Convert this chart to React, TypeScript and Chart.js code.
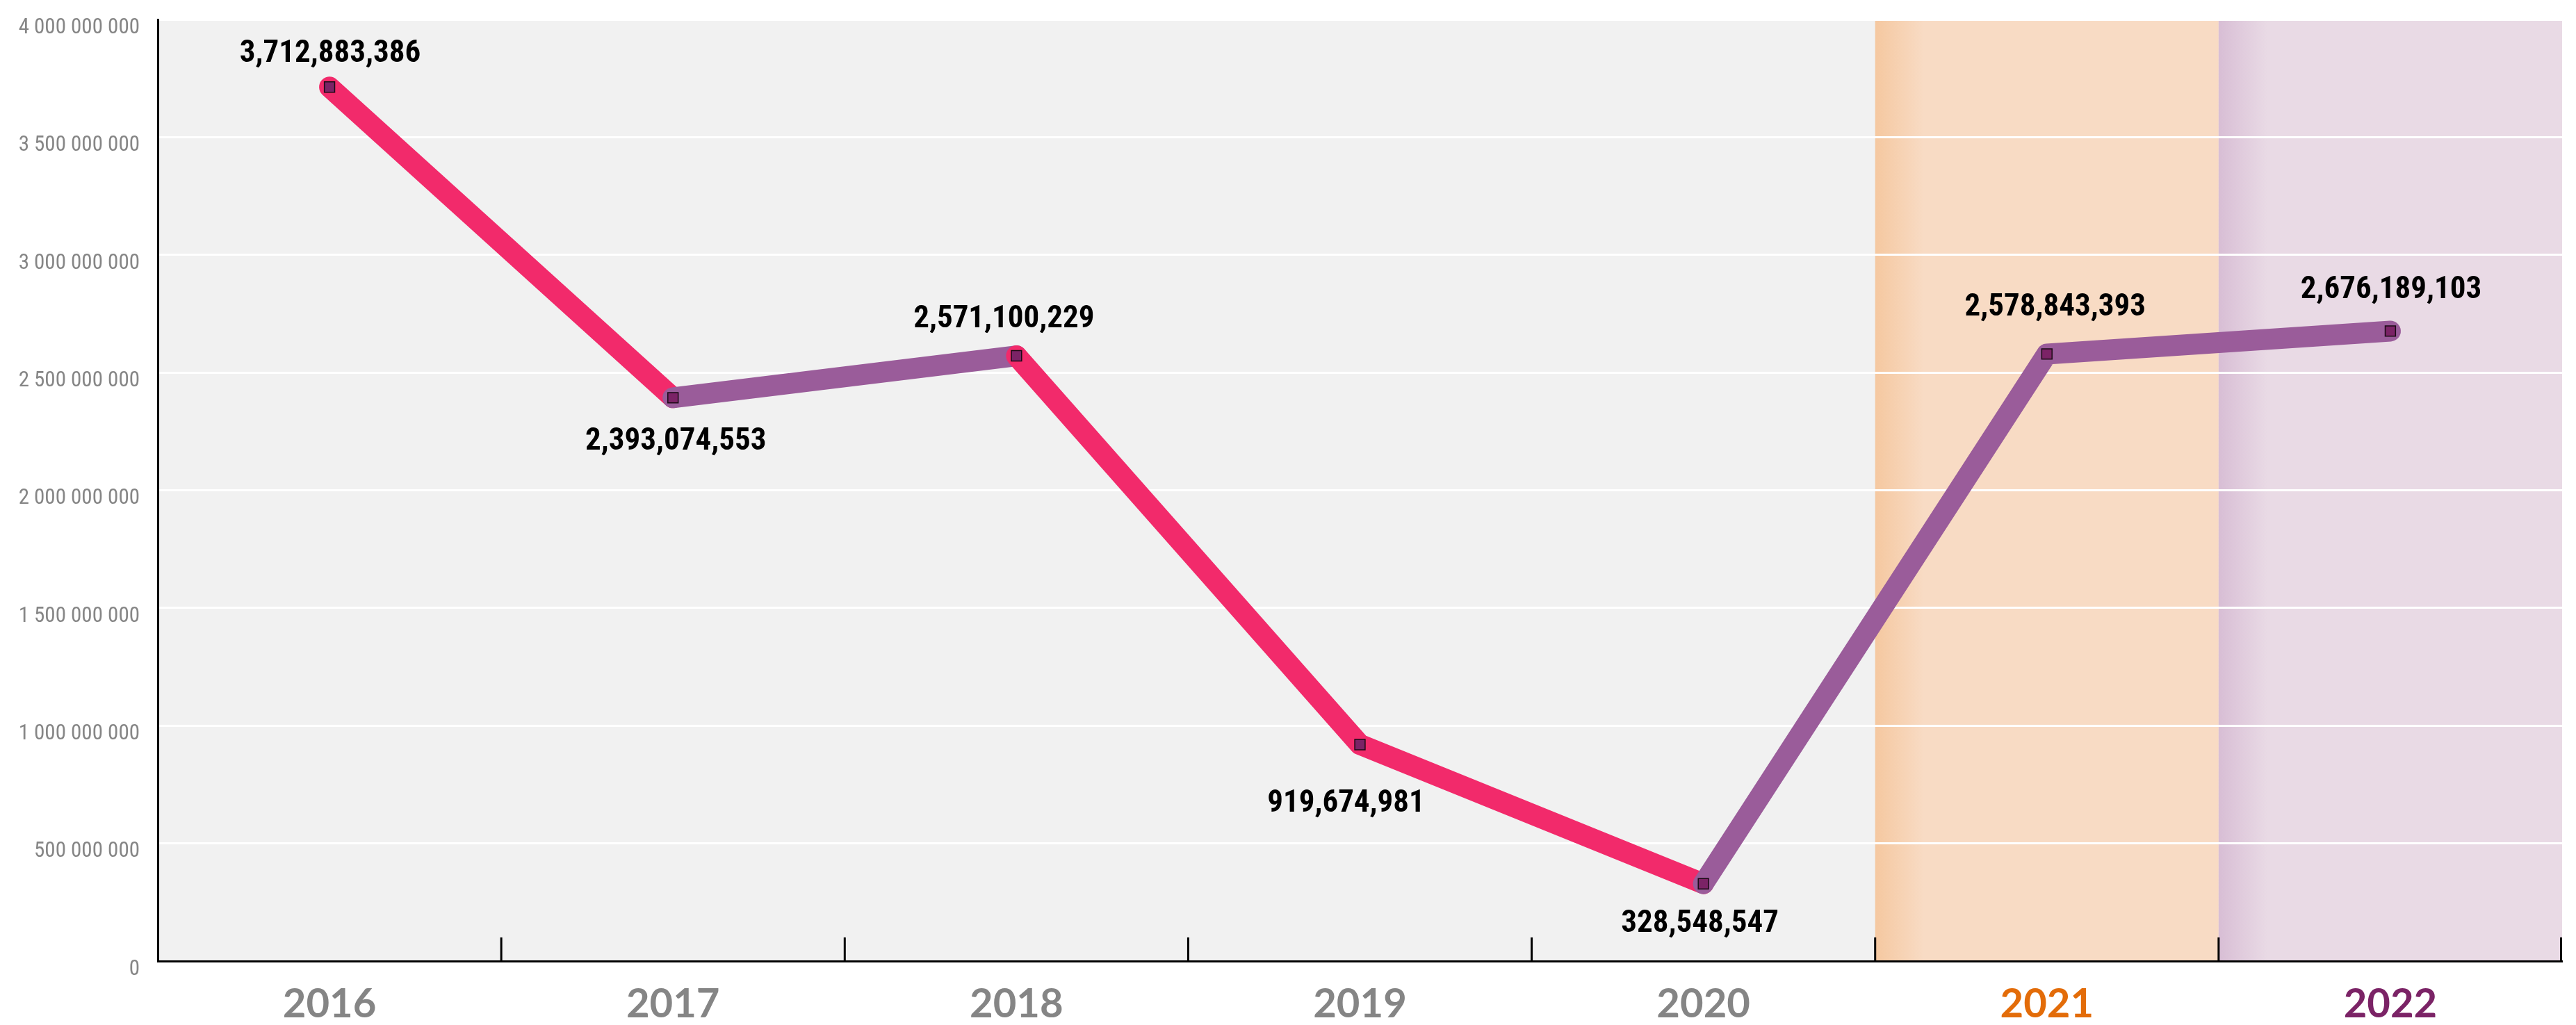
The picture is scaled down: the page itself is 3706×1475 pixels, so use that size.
import React, { useEffect, useRef } from 'react';
import { Chart, registerables } from 'chart.js';

Chart.register(...registerables);

// ---- data ----
const categories = ['2016', '2017', '2018', '2019', '2020', '2021', '2022'];
const values = [3712883386, 2393074553, 2571100229, 919674981, 328548547, 2578843393, 2676189103];
const yMin = 0;
const yMax = 4000000000;
const yStep = 500000000;
const categoryLabelColors = ['#858585', '#858585', '#858585', '#858585', '#858585', '#e36c09', '#7b2366'];
const bandColors: (null | [string, string])[] = [null, null, null, null, null, ['#f5c8a0', '#f8dbc4'], ['#d8bed5', '#e9dae5']];
// value label placement relative to its point (style constants)
const labelPlacement = [
  { dx: 1, dy: -48 },
  { dx: 4, dy: 63 },
  { dx: -18, dy: -52 },
  { dx: -20, dy: 85 },
  { dx: -5, dy: 58 },
  { dx: 12, dy: -67 },
  { dx: 1, dy: -59 },
];

const PINK = '#f22a6b';
const PURPLE = '#9a5c9a';
const MARKER = '#7b2366';
const NARROW = '"Liberation Sans Narrow", "Roboto Condensed", "DejaVu Sans Condensed", sans-serif';

const bgPlugin = {
  id: 'bgBands',
  beforeDraw(chart: any) {
    const { ctx, chartArea: a, scales } = chart;
    const x = scales.x;
    ctx.save();
    ctx.fillStyle = '#f1f1f1';
    ctx.fillRect(a.left, a.top, a.right - a.left, a.bottom - a.top);
    const half = (x.getPixelForValue(1) - x.getPixelForValue(0)) / 2;
    bandColors.forEach((c, i) => {
      if (!c) return;
      const l = x.getPixelForValue(i) - half;
      const r = Math.min(x.getPixelForValue(i) + half, a.right);
      const g = ctx.createLinearGradient(l, 0, l + 70, 0);
      g.addColorStop(0, c[0]);
      g.addColorStop(1, c[1]);
      ctx.fillStyle = g;
      ctx.fillRect(l, a.top, r - l, a.bottom - a.top);
    });
    ctx.restore();
  },
};

const tickPlugin = {
  id: 'innerTicks',
  beforeDatasetsDraw(chart: any) {
    const { ctx, chartArea: a, scales } = chart;
    const x = scales.x;
    const half = (x.getPixelForValue(1) - x.getPixelForValue(0)) / 2;
    ctx.save();
    ctx.strokeStyle = '#000';
    ctx.lineWidth = 3;
    for (let i = 0; i < categories.length; i++) {
      const bx = Math.min(x.getPixelForValue(i) + half, a.right - 1.5);
      ctx.beginPath();
      ctx.moveTo(bx, a.bottom);
      ctx.lineTo(bx, a.bottom - 34);
      ctx.stroke();
    }
    ctx.restore();
  },
};

const valueLabelPlugin = {
  id: 'valueLabels',
  afterDatasetsDraw(chart: any) {
    const { ctx } = chart;
    const meta = chart.getDatasetMeta(0);
    ctx.save();
    ctx.font = 'bold 45px ' + NARROW;
    ctx.fillStyle = '#000';
    ctx.textAlign = 'center';
    ctx.textBaseline = 'middle';
    meta.data.forEach((pt: any, i: number) => {
      const p = labelPlacement[i];
      ctx.fillText(values[i].toLocaleString('en-US'), pt.x + p.dx, pt.y + p.dy);
    });
    ctx.restore();
  },
};

export default function App() {
  const ref = useRef<HTMLCanvasElement | null>(null);
  useEffect(() => {
    if (!ref.current) return;
    const chart = new Chart(ref.current, {
      type: 'line',
      data: {
        labels: categories,
        datasets: [
          {
            data: values,
            borderColor: PINK,
            borderWidth: 30,
            borderCapStyle: 'round',
            borderJoinStyle: 'round',
            tension: 0,
            fill: false,
            clip: false as any,
            pointStyle: 'rect',
            pointRadius: 10.5,
            pointBackgroundColor: MARKER,
            pointBorderColor: '#1a0a14',
            pointBorderWidth: 1.5,
            segment: {
              borderColor: (c: any) => (c.p1.parsed.y < c.p0.parsed.y ? PINK : PURPLE),
            },
          },
        ],
      },
      options: {
        animation: false,
        responsive: true,
        maintainAspectRatio: false,
        devicePixelRatio: 1,
        layout: { padding: { top: 20, right: 0, left: 0, bottom: 0 } },
        plugins: { legend: { display: false }, tooltip: { enabled: false } },
        scales: {
          x: {
            type: 'category',
            offset: true,
            grid: { display: false, drawTicks: false },
            border: { display: true, color: '#000', width: 3 },
            ticks: {
              padding: 27,
              font: { family: 'Lato', weight: 'bold', size: 58 },
              color: (c: any) => categoryLabelColors[c.index] || '#858585',
              maxRotation: 0,
              autoSkip: false,
            },
            afterFit: (s: any) => {
              s.height = 84;
              s.paddingLeft = 0;
              s.paddingRight = 0;
            },
          },
          y: {
            min: yMin,
            max: yMax,
            grid: { color: '#ffffff', lineWidth: 3, drawTicks: false },
            border: { display: true, color: '#000', width: 3 },
            ticks: {
              stepSize: yStep,
              padding: 26,
              labelOffset: 12,
              color: '#868686',
              font: { family: NARROW, size: 31 },
              callback: (v: any) => Number(v).toLocaleString('en-US').replace(/,/g, ' '),
            },
            afterFit: (s: any) => {
              s.width = 219;
              s.paddingTop = 0;
              s.paddingBottom = 0;
            },
          },
        },
      } as any,
      plugins: [bgPlugin, tickPlugin, valueLabelPlugin],
    });
    return () => chart.destroy();
  }, []);
  return (
    <div style={{ position: 'relative', width: '3690px', height: '1459px', overflow: 'hidden' }}>
      <canvas ref={ref} style={{ display: 'block' }} />
    </div>
  );
}
